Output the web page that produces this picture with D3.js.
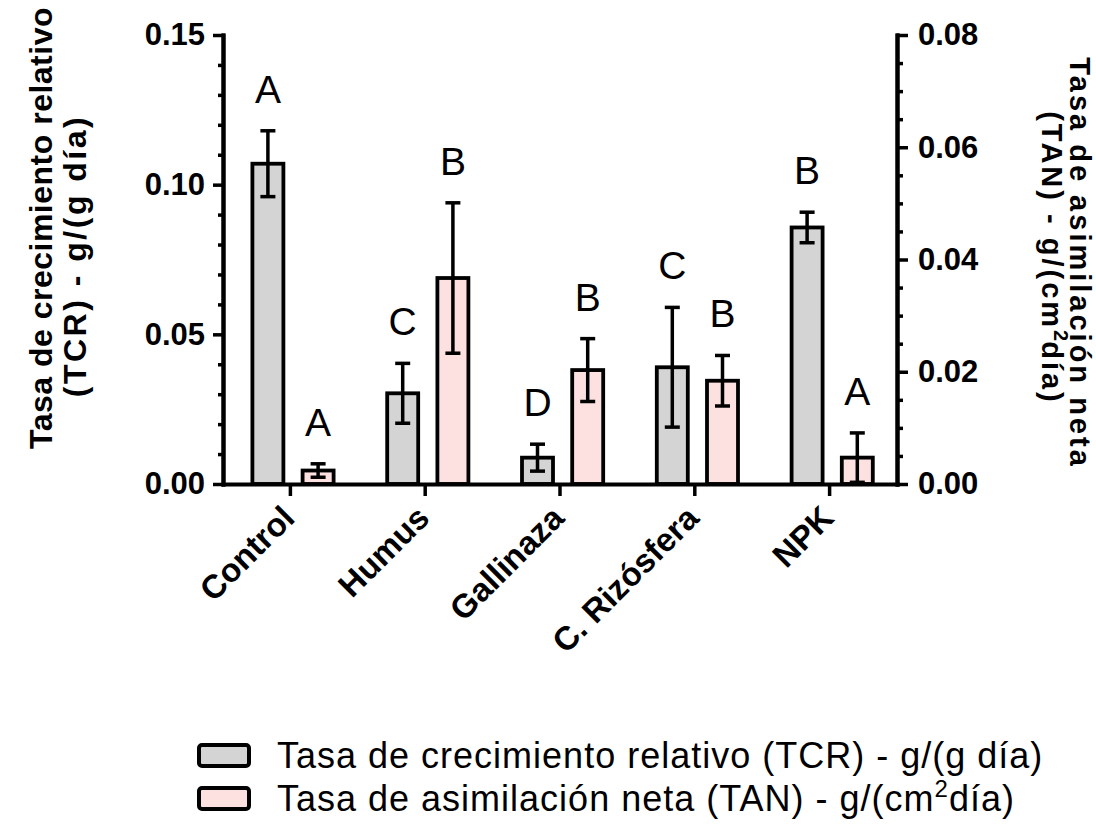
<!DOCTYPE html>
<html>
<head>
<meta charset="utf-8">
<script src="https://cdn.jsdelivr.net/npm/d3@7"></script>
<style>
  html, body { margin: 0; padding: 0; background: #fff; }
  svg { display: block; }
  text { font-family: "Liberation Sans", Arial, Helvetica, sans-serif; fill: #000; }
</style>
</head>
<body>
<svg id="chart" width="1096" height="830"></svg>
<script>
// Treatments on the x axis
const categories = ["Control", "Humus", "Gallinaza", "C. Rizósfera", "NPK"];

// Relative growth rate (left axis), means and error
const tcrValues = [0.107, 0.0303, 0.0088, 0.039, 0.0857];
const tcrErrors = [0.011, 0.010, 0.0045, 0.020, 0.0051];
const tcrLetters = ["A", "C", "D", "C", "B"];

// Net assimilation rate (right axis), means and error
const tanValues = [0.0024, 0.0367, 0.0203, 0.0184, 0.0047];
const tanErrors = [0.0012, 0.0134, 0.0056, 0.0045, 0.0044];
const tanLetters = ["A", "B", "B", "B", "A"];

// Axis ticks
const leftTicks = [0.00, 0.05, 0.10, 0.15];
const leftMinor = [0.01, 0.02, 0.03, 0.04, 0.06, 0.07, 0.08, 0.09, 0.11, 0.12, 0.13, 0.14];
const rightTicks = [0.00, 0.02, 0.04, 0.06, 0.08];
const rightMinor = [0.005, 0.01, 0.015, 0.025, 0.03, 0.035, 0.045, 0.05, 0.055, 0.065, 0.07, 0.075];

const seriesNames = [
  "Tasa de crecimiento relativo (TCR) - g/(g día)",
  "Tasa de asimilación neta (TAN) - g/(cm²día)"
];

const svg = d3.select("#chart");
const plot = { left: 223, right: 897, top: 35, bottom: 484 };

const x = d3.scaleBand().domain(categories).range([plot.left, plot.right]);
const yL = d3.scaleLinear().domain([0, 0.15]).range([plot.bottom, plot.top]);
const yR = d3.scaleLinear().domain([0, 0.08]).range([plot.bottom, plot.top]);

const barW = 31;
const offsetTCR = -22.5, offsetTAN = 27.7;
const fills = ["#d4d4d4", "#fde1e1"];

const series = [
  { values: tcrValues, errors: tcrErrors, letters: tcrLetters, y: yL, off: offsetTCR, fill: fills[0] },
  { values: tanValues, errors: tanErrors, letters: tanLetters, y: yR, off: offsetTAN, fill: fills[1] }
];

const cx = (c, s) => x(c) + x.bandwidth() / 2 + s.off;

// Bars
series.forEach(s => {
  const g = svg.append("g");
  g.selectAll("rect")
    .data(categories)
    .join("rect")
    .attr("x", c => cx(c, s) - barW / 2)
    .attr("y", (c, i) => s.y(s.values[i]))
    .attr("width", barW)
    .attr("height", (c, i) => s.y(0) - s.y(s.values[i]))
    .attr("fill", s.fill)
    .attr("stroke", "#000")
    .attr("stroke-width", 3.8);
});

// Error bars and letter groupings
series.forEach(s => {
  const g = svg.append("g").attr("stroke", "#000").attr("stroke-width", 3.5);
  categories.forEach((c, i) => {
    const xc = cx(c, s);
    const hi = s.y(s.values[i] + s.errors[i]);
    const lo = s.y(Math.max(0, s.values[i] - s.errors[i]));
    g.append("line").attr("x1", xc).attr("x2", xc).attr("y1", hi).attr("y2", lo);
    g.append("line").attr("x1", xc - 7.5).attr("x2", xc + 7.5).attr("y1", hi).attr("y2", hi);
    g.append("line").attr("x1", xc - 7.5).attr("x2", xc + 7.5).attr("y1", lo).attr("y2", lo);
    svg.append("text")
      .attr("x", xc)
      .attr("y", hi - 28)
      .attr("text-anchor", "middle")
      .attr("font-size", 39)
      .text(s.letters[i]);
  });
});

function styleAxis(g) {
  g.selectAll(".domain").attr("stroke", "#000").attr("stroke-width", 4).attr("stroke-linecap", "square");
  g.selectAll(".tick line").attr("stroke", "#000").attr("stroke-width", 3.5);
  g.selectAll(".tick text").attr("font-weight", "bold").attr("fill", "#000");
}

// Left axis
const gL = svg.append("g").attr("transform", `translate(${plot.left},0)`);
gL.call(d3.axisLeft(yL).tickValues(leftMinor).tickSize(5).tickSizeOuter(0).tickFormat(""));
gL.call(styleAxis);
const gL2 = svg.append("g").attr("transform", `translate(${plot.left},0)`);
gL2.call(d3.axisLeft(yL).tickValues(leftTicks).tickSize(10).tickSizeOuter(0).tickPadding(8).tickFormat(d3.format(".2f")));
gL2.call(styleAxis);
gL2.selectAll(".tick text").attr("font-size", 31);

// Right axis
const gR = svg.append("g").attr("transform", `translate(${plot.right},0)`);
gR.call(d3.axisRight(yR).tickValues(rightMinor).tickSize(6).tickSizeOuter(0).tickFormat(""));
gR.call(styleAxis);
const gR2 = svg.append("g").attr("transform", `translate(${plot.right},0)`);
gR2.call(d3.axisRight(yR).tickValues(rightTicks).tickSize(11).tickSizeOuter(0).tickPadding(10).tickFormat(d3.format(".2f")));
gR2.call(styleAxis);
gR2.selectAll(".tick text").attr("font-size", 31);

// Bottom axis with slanted labels
const gB = svg.append("g").attr("transform", `translate(0,${plot.bottom})`);
gB.call(d3.axisBottom(x).tickSize(12).tickSizeOuter(0));
gB.call(styleAxis);
gB.selectAll(".tick text")
  .attr("font-size", 33)
  .attr("text-anchor", "end")
  .attr("dy", null)
  .attr("y", null)
  .attr("transform", "translate(6,36) rotate(-45)");

// Left axis title
const tl = svg.append("text")
  .attr("font-weight", "bold")
  .attr("font-size", 32)
  .attr("text-anchor", "middle")
  .attr("transform", "rotate(-90)");
tl.append("tspan").attr("x", -228).attr("y", 52).attr("letter-spacing", 0.5).text("Tasa de crecimiento relativo");
tl.append("tspan").attr("x", -256).attr("y", 86).attr("letter-spacing", 2.5).text("(TCR) - g/(g día)");

// Right axis title
const tr = svg.append("text")
  .attr("font-weight", "bold")
  .attr("font-size", 29)
  .attr("text-anchor", "middle")
  .attr("letter-spacing", 3)
  .attr("transform", "rotate(90)");
tr.append("tspan").attr("x", 263).attr("y", -1070).text("Tasa de asimilación neta");
const tr2 = tr.append("tspan").attr("x", 258).attr("y", -1042);
tr2.append("tspan").text("(TAN) - g/(cm");
tr2.append("tspan").attr("font-size", 20).attr("dy", -12).attr("letter-spacing", 0).text("2");
tr2.append("tspan").attr("dy", 12).text("día)");

// Legend
const legend = svg.append("g").attr("transform", "translate(199,745)");
seriesNames.forEach((name, i) => {
  const row = legend.append("g").attr("transform", `translate(0,${i * 43})`);
  row.append("rect")
    .attr("width", 50).attr("height", 21).attr("rx", 3)
    .attr("fill", fills[i]).attr("stroke", "#000").attr("stroke-width", 4);
  const t = row.append("text").attr("x", 78).attr("y", 23).attr("font-size", 36).attr("letter-spacing", 1);
  if (name.includes("²")) {
    const [a, b] = name.split("²");
    t.append("tspan").text(a);
    t.append("tspan").attr("font-size", 24).attr("dy", -14).text("2");
    t.append("tspan").attr("dy", 14).text(b);
  } else {
    t.text(name);
  }
});
</script>
</body>
</html>
